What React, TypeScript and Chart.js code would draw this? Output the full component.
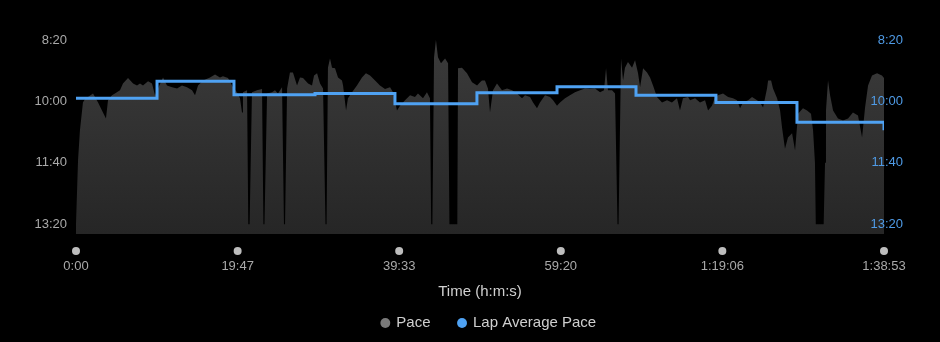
import { useEffect, useRef } from "react";
import { Chart, registerables } from "chart.js";

Chart.register(...registerables);

// Elapsed time (s) and pace (s per mile) of the Pace area
const paceTimes = [
  0, 15, 29, 51, 66, 88, 125, 162, 198, 220, 235, 264, 286, 323, 345, 382, 419, 448, 470, 492,
  529, 558, 580, 602, 639, 668, 705, 742, 778, 815, 852, 874, 896, 933, 984, 1021, 1057, 1079, 1116, 1153,
  1182, 1204, 1219, 1226, 1256, 1265, 1275, 1292, 1329, 1366, 1376, 1384, 1403, 1439, 1461, 1483, 1513, 1527, 1535, 1550,
  1571, 1593, 1623, 1645, 1667, 1704, 1733, 1748, 1770, 1792, 1814, 1832, 1840, 1850, 1865, 1880, 1902, 1924, 1953, 1961,
  1983, 1997, 2027, 2063, 2100, 2129, 2159, 2196, 2232, 2269, 2306, 2328, 2357, 2379, 2416, 2453, 2489, 2511, 2548, 2577,
  2599, 2608, 2617, 2629, 2643, 2658, 2680, 2710, 2732, 2742, 2800, 2805, 2834, 2871, 2908, 2945, 2967, 2981, 3003, 3025,
  3040, 3062, 3091, 3128, 3165, 3202, 3238, 3275, 3297, 3334, 3356, 3385, 3407, 3444, 3481, 3503, 3532, 3554, 3591, 3627,
  3664, 3701, 3738, 3774, 3811, 3848, 3877, 3892, 3906, 3936, 3958, 3976, 3984, 4002, 4017, 4031, 4053, 4083, 4105, 4127,
  4142, 4164, 4193, 4215, 4237, 4266, 4303, 4340, 4376, 4413, 4435, 4457, 4494, 4509, 4546, 4582, 4619, 4641, 4670, 4692,
  4714, 4751, 4788, 4824, 4854, 4876, 4898, 4935, 4964, 5001, 5023, 5045, 5074, 5082, 5104, 5118, 5148, 5170, 5184, 5206,
  5228, 5258, 5280, 5302, 5338, 5368, 5397, 5412, 5426, 5432, 5490, 5500, 5507, 5522, 5537, 5559, 5595, 5632, 5669, 5705,
  5742, 5772, 5794, 5816, 5845, 5882, 5918, 5933,
];
const paceValues = [
  800, 696, 647, 602, 596, 593, 587, 602, 618, 628, 598, 590, 587, 582, 571, 562, 571, 574, 571, 574,
  567, 571, 590, 579, 561, 574, 577, 579, 574, 577, 582, 590, 574, 566, 561, 556, 561, 559, 562, 577,
  585, 595, 618, 585, 582, 800, 800, 585, 582, 580, 800, 800, 587, 585, 582, 587, 577, 800, 800, 579,
  553, 553, 574, 561, 562, 571, 574, 558, 554, 571, 579, 800, 800, 545, 530, 545, 546, 561, 566, 574,
  615, 595, 585, 574, 561, 554, 558, 566, 574, 580, 577, 585, 615, 607, 598, 590, 593, 587, 595, 585,
  595, 800, 800, 528, 500, 528, 538, 530, 538, 800, 800, 546, 545, 554, 569, 574, 569, 566, 566, 579,
  618, 582, 571, 582, 579, 582, 587, 595, 590, 593, 602, 611, 602, 590, 593, 598, 607, 602, 595, 590,
  585, 582, 579, 580, 579, 585, 582, 546, 582, 582, 587, 800, 800, 530, 566, 545, 536, 545, 533, 554,
  577, 546, 553, 561, 574, 593, 602, 598, 602, 595, 615, 595, 593, 598, 595, 602, 598, 615, 607, 593,
  590, 587, 593, 595, 598, 611, 602, 598, 593, 598, 602, 610, 579, 566, 566, 579, 595, 615, 642, 677,
  659, 652, 680, 620, 611, 615, 620, 647, 700, 800, 800, 700, 615, 566, 590, 615, 628, 631, 628, 618,
  623, 659, 610, 574, 558, 554, 558, 562,
];

// Lap average pace (stepped): lap start times and the pace of the lap starting there
const lapTimes = [0, 595, 1160, 1755, 2342, 2944, 3532, 4112, 4699, 5294, 5933, 5933];
const lapValues = [595, 567, 589, 587, 604, 586, 576, 590, 602, 634, 634, 647];

const xTickValues = [0, 1187, 2373, 3560, 4746, 5933];
const xTickLabels = ["0:00", "19:47", "39:33", "59:20", "1:19:06", "1:38:53"];
const yTickValues = [500, 600, 700, 800];
const yTickLabels = ["8:20", "10:00", "11:40", "13:20"];
const seriesNames = ["Pace", "Lap Average Pace"];
const axisTitle = "Time (h:m:s)";

const FONT = "'Liberation Sans', Arial, Helvetica, sans-serif";
const LAP_BLUE = "#4fa2f3";
const legendColors = ["#7a7a7a", "#4fa2f3"];

const tickDots = {
  id: "tickDots",
  afterDraw(chart: any) {
    const xs = chart.scales.x;
    const ctx = chart.ctx;
    ctx.save();
    ctx.fillStyle = "#bdbdbd";
    xTickValues.forEach((v) => {
      const px = xs.getPixelForValue(v);
      ctx.beginPath();
      ctx.arc(px, xs.top + 17, 4, 0, Math.PI * 2);
      ctx.fill();
    });
    ctx.restore();
  },
};

// centre the legend under the plot area rather than the full canvas
const legendShift = {
  id: "legendShift",
  afterLayout(chart: any) {
    if (chart.legend) {
      chart.legend.left += 38;
    }
  },
};

export default function App() {
  const ref = useRef<HTMLCanvasElement | null>(null);

  useEffect(() => {
    document.body.style.margin = "0";
    document.body.style.background = "#000";
    const canvas = ref.current;
    if (!canvas) return;

    const paceData = paceTimes.map((t, i) => ({ x: t, y: paceValues[i] }));
    const lapData = lapTimes.map((t, i) => ({ x: t, y: lapValues[i] }));

    const yCommon = (side: "left" | "right") => ({
      type: "linear" as const,
      position: side,
      reverse: true,
      min: 500,
      max: 816,
      afterBuildTicks: (s: any) => {
        s.ticks = yTickValues.map((v) => ({ value: v }));
      },
      grid: { display: false, drawTicks: false },
      border: { display: false },
    });

    const chart = new Chart(canvas, {
      type: "line",
      data: {
        datasets: [
          {
            label: seriesNames[0],
            data: paceData,
            yAxisID: "y",
            order: 2,
            fill: "start",
            borderWidth: 0,
            pointRadius: 0,
            tension: 0,
            backgroundColor: (c: any) => {
              const a = c.chart.chartArea;
              if (!a) return "#303030";
              const g = c.chart.ctx.createLinearGradient(0, a.top, 0, a.bottom);
              g.addColorStop(0, "#3b3b3b");
              g.addColorStop(1, "#262626");
              return g;
            },
          },
          {
            label: seriesNames[1],
            data: lapData,
            yAxisID: "y2",
            order: 1,
            fill: false,
            stepped: "before",
            borderColor: LAP_BLUE,
            borderWidth: 3,
            pointRadius: 0,
          },
        ],
      },
      options: {
        responsive: false,
        animation: false,
        devicePixelRatio: 1,
        layout: { padding: { left: 0, right: 0, top: 40, bottom: 1.5 } },
        scales: {
          x: {
            type: "linear",
            min: 0,
            max: 5933,
            afterBuildTicks: (s: any) => {
              s.ticks = xTickValues.map((v) => ({ value: v }));
            },
            afterFit: (s: any) => {
              s.height = 53.5;
            },
            ticks: {
              callback: (_v: any, i: number) => xTickLabels[i],
              color: "#a9a9a9",
              font: { size: 13, family: FONT },
              padding: 25,
              maxRotation: 0,
              autoSkip: false,
            },
            grid: { display: false, drawTicks: false },
            border: { display: false },
            title: {
              display: true,
              text: axisTitle,
              color: "#d0d0d0",
              font: { size: 15, family: FONT },
              padding: { top: 0, bottom: -13.5 },
            },
          },
          y: {
            ...yCommon("left"),
            afterFit: (s: any) => {
              s.width = 76;
            },
            ticks: {
              callback: (_v: any, i: number) => yTickLabels[i],
              color: "#a9a9a9",
              font: { size: 13, family: FONT },
              padding: 9,
            },
          },
          y2: {
            ...yCommon("right"),
            afterFit: (s: any) => {
              s.width = 56;
            },
            ticks: {
              callback: (_v: any, i: number) => yTickLabels[i],
              color: "#4f9be6",
              font: { size: 13, family: FONT },
              mirror: true,
              padding: 19,
              z: 1,
            },
          },
        },
        plugins: {
          legend: {
            position: "bottom",
            labels: {
              usePointStyle: true,
              pointStyle: "circle",
              boxWidth: 7,
              boxHeight: 7,
              padding: 28,
              color: "#cfcfcf",
              font: { size: 15, family: FONT },
              sort: (a: any, b: any) => a.datasetIndex - b.datasetIndex,
              generateLabels: (ch: any) => {
                const items = (Chart.defaults as any).plugins.legend.labels.generateLabels(ch);
                items.forEach((it: any) => {
                  const c = legendColors[it.datasetIndex];
                  it.fillStyle = c;
                  it.strokeStyle = c;
                  it.lineWidth = 0;
                  it.pointStyle = "circle";
                  it.fontColor = "#cfcfcf";
                });
                return items;
              },
            },
          },
          tooltip: { enabled: false },
        },
      },
      plugins: [tickDots, legendShift],
    } as any);

    return () => chart.destroy();
  }, []);

  return (
    <div style={{ width: 940, height: 342, background: "#000" }}>
      <canvas ref={ref} width={940} height={342} style={{ display: "block" }} />
    </div>
  );
}
